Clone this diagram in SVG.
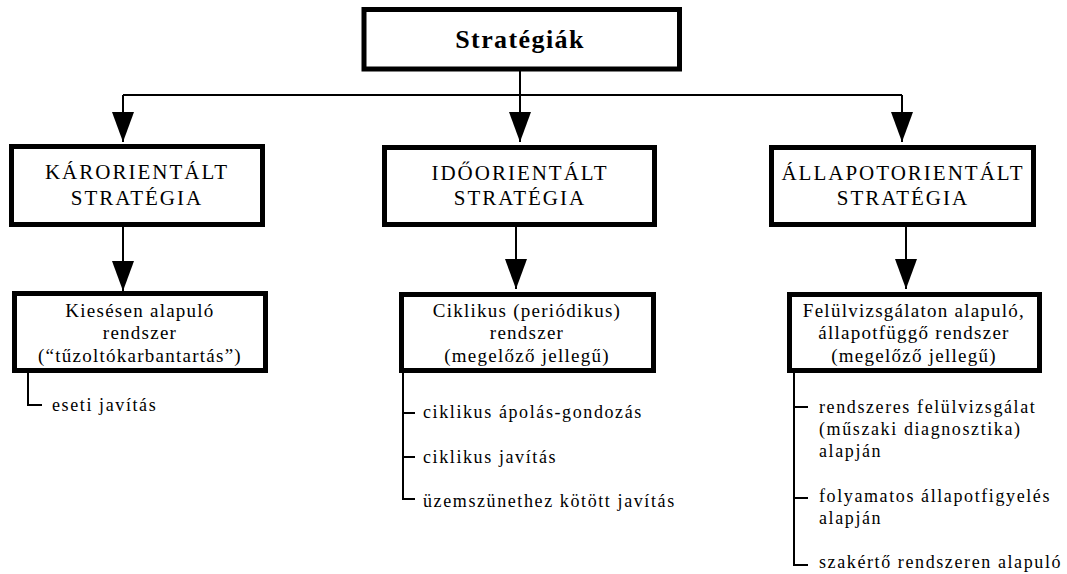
<svg xmlns="http://www.w3.org/2000/svg" width="1067" height="574" viewBox="0 0 1067 574">
<style>
.box{fill:#fff;stroke:#000;stroke-width:5}
.ln{fill:none;stroke:#000;stroke-width:2}
.t{font-family:"Liberation Serif","Times New Roman",serif;fill:#000}
.h{font-size:26px;font-weight:bold;letter-spacing:1.4px;text-anchor:middle}
.s{font-size:21px;letter-spacing:2px;text-anchor:middle}
.b{font-size:19px;letter-spacing:1.25px;text-anchor:middle}
.l{font-size:18px;letter-spacing:1.6px}
</style>
<defs>
<marker id="ah" markerUnits="userSpaceOnUse" markerWidth="30" markerHeight="22" refX="30" refY="11" orient="auto" viewBox="0 0 30 22">
<path d="M0,0 L30,11 L0,22 Z" fill="#000"/>
</marker>
</defs>
<g id="connectors">
<path class="ln" d="M123,95 H902"/>
<path class="ln" d="M520,71 V142" marker-end="url(#ah)"/>
<path class="ln" d="M123,95 V142" marker-end="url(#ah)"/>
<path class="ln" d="M902,95 V142" marker-end="url(#ah)"/>
<path class="ln" d="M123,227 V291" marker-end="url(#ah)"/>
<path class="ln" d="M516,227 V289" marker-end="url(#ah)"/>
<path class="ln" d="M906,227 V289" marker-end="url(#ah)"/>
<path class="ln" d="M28,373 V405 H42"/>
<path class="ln" d="M403,373 V499 H415 M403,413 H415 M403,457 H415"/>
<path class="ln" d="M794,373 V565 H808 M794,407 H808 M794,498 H808"/>
</g>
<g id="root">
<rect class="box" x="364" y="9.5" width="315.5" height="59.5"/>
<text class="t h" x="520" y="48">Stratégiák</text>
</g>
<g id="karorientalt">
<rect class="box" x="11.5" y="146.5" width="251" height="78"/>
<text class="t s" x="137" y="179">KÁRORIENTÁLT</text>
<text class="t s" x="137" y="205">STRATÉGIA</text>
</g>
<g id="idoorientalt">
<rect class="box" x="384.5" y="147.5" width="270" height="77"/>
<text class="t s" x="520" y="180">IDŐORIENTÁLT</text>
<text class="t s" x="520" y="205">STRATÉGIA</text>
</g>
<g id="allapotorientalt">
<rect class="box" x="771.5" y="147.5" width="262" height="77"/>
<text class="t s" x="903" y="180">ÁLLAPOTORIENTÁLT</text>
<text class="t s" x="903" y="205">STRATÉGIA</text>
</g>
<g id="kieses">
<rect class="box" x="14.5" y="293.5" width="251" height="77"/>
<text class="t b" x="140" y="317">Kiesésen alapuló</text>
<text class="t b" x="140" y="339">rendszer</text>
<text class="t b" x="140" y="362">(“tűzoltókarbantartás”)</text>
</g>
<g id="ciklikus">
<rect class="box" x="401.5" y="294.5" width="252" height="76"/>
<text class="t b" x="527" y="317">Ciklikus (periódikus)</text>
<text class="t b" x="527" y="339">rendszer</text>
<text class="t b" x="527" y="362">(megelőző jellegű)</text>
</g>
<g id="felulvizsgalat">
<rect class="box" x="789.5" y="294.5" width="250" height="76"/>
<text class="t b" x="914" y="317">Felülvizsgálaton alapuló,</text>
<text class="t b" x="914" y="339">állapotfüggő rendszer</text>
<text class="t b" x="914" y="362">(megelőző jellegű)</text>
</g>
<g id="list-kar">
<text class="t l" x="52" y="411">eseti javítás</text>
</g>
<g id="list-ido">
<text class="t l" x="423" y="418">ciklikus ápolás-gondozás</text>
<text class="t l" x="423" y="463">ciklikus javítás</text>
<text class="t l" x="423" y="507">üzemszünethez kötött javítás</text>
</g>
<g id="list-allapot">
<text class="t l" x="819" y="413">rendszeres felülvizsgálat</text>
<text class="t l" x="819" y="435">(műszaki diagnosztika)</text>
<text class="t l" x="819" y="457">alapján</text>
<text class="t l" x="819" y="502">folyamatos állapotfigyelés</text>
<text class="t l" x="819" y="524">alapján</text>
<text class="t l" x="819" y="568">szakértő rendszeren alapuló</text>
</g>
</svg>
